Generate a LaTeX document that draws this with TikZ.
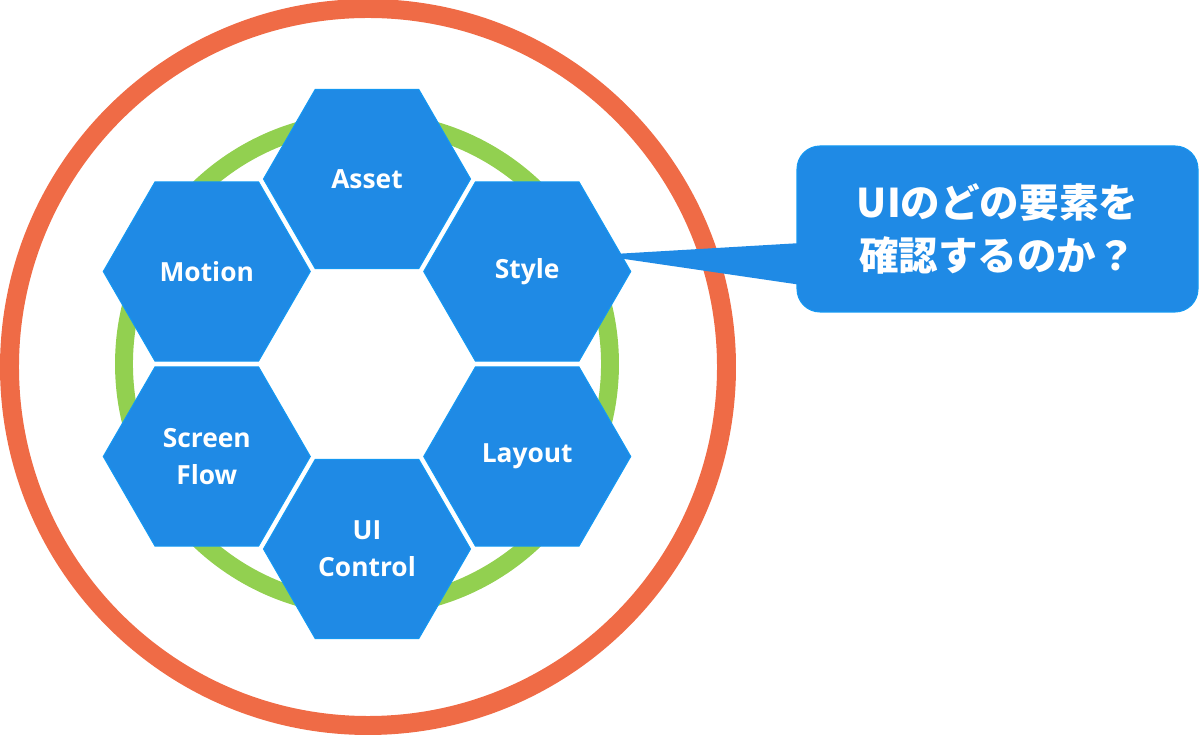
\documentclass[tikz,border=0pt]{standalone}
\usepackage{fontspec}
\setmainfont{Open Sans}
\newfontfamily\jpfont{Noto Sans CJK JP}
\usetikzlibrary{shapes.geometric,positioning,calc}
\definecolor{hexblue}{RGB}{31,138,229}
\definecolor{hexrim}{RGB}{20,152,242}
\definecolor{ringred}{RGB}{239,107,70}
\definecolor{ringgreen}{RGB}{146,208,80}

\begin{document}
\begin{tikzpicture}[hex/.style={regular polygon,regular polygon sides=6,minimum size=4.14cm,inner sep=0pt,fill=hexblue,draw=hexrim,line width=0.6pt,text=white,align=center,font=\bfseries\fontsize{15}{21}\selectfont},callout box/.style={rectangle,rounded corners=0.46cm,minimum width=8.02cm,minimum height=3.32cm,fill=hexblue,draw=hexrim,line width=0.6pt,text=white,align=center,font=\jpfont\bfseries\fontsize{22.5}{30.5}\selectfont}]

    \useasboundingbox (-7.34,-7.42) rectangle (16.66,7.28);

    % the two rings
    \draw[ringred,line width=10.8pt] (0.02,-0.06) circle (7.17);
    \draw[ringgreen,line width=10.2pt] (0,0) circle (4.86);

    % six hexagons round the green ring
    \foreach \ang/\name/\txt in {90/asset/Asset,150/motion/Motion,30/style/Style,210/flow/Screen\\Flow,-30/layout/Layout,-90/control/UI\\Control}{
        \node[hex] (\name) at (\ang:3.7) {\txt};
    }

    % speech bubble
    \node[callout box] (ask) at (12.61,2.70) {UIのどの要素を\\確認するのか？};
    \coordinate (tip) at ([shift={(1.4,0.33)}]style.center);
    \fill[hexblue] (tip) -- ([shift={(0.1,-0.28)}]ask.west) -- ([shift={(0.1,-1.12)}]ask.west) -- cycle;

\end{tikzpicture}
\end{document}
